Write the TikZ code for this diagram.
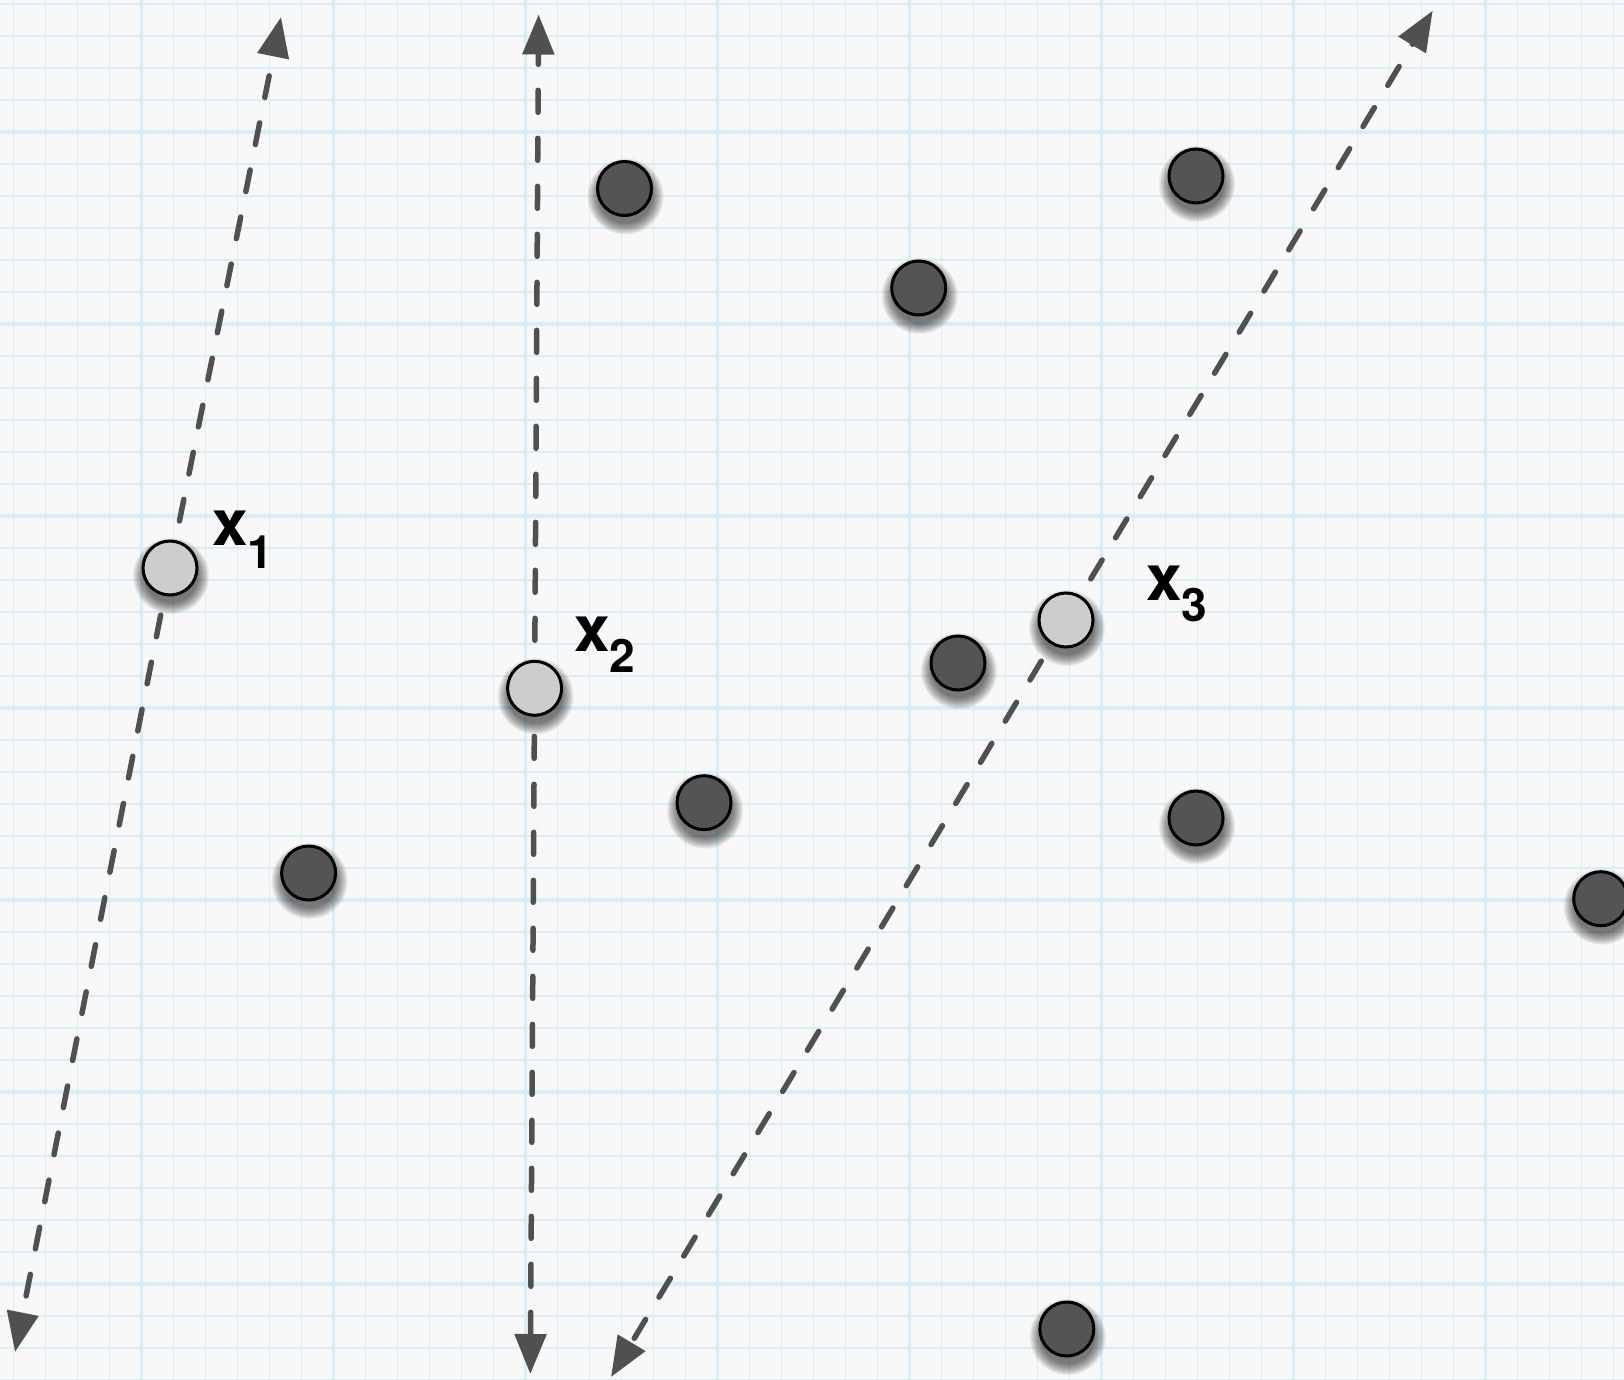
\documentclass[tikz,border=0pt]{standalone}
\usepackage{fontspec}
\setsansfont{TeX Gyre Heros}
\usetikzlibrary{arrows.meta}
\pgfdeclarelayer{grid}
\pgfdeclarelayer{shade}
\pgfdeclarelayer{lines}
\pgfsetlayers{grid,shade,lines,main}
\definecolor{paper}{RGB}{248,248,248}
\definecolor{gridc}{RGB}{219,237,244}
\definecolor{ink}{RGB}{80,80,80}
\definecolor{darkdot}{RGB}{84,84,84}
\definecolor{lightdot}{RGB}{205,205,205}
\tikzset{
  dot/.style={circle, draw=black, line width=3pt, minimum size=54pt, inner sep=0pt},
  darkpt/.style={dot, fill=darkdot},
  lightpt/.style={dot, fill=lightdot},
  vec/.style={draw=ink, line width=5.5pt, line cap=round, dash pattern=on 22pt off 26pt,
    -{Triangle[length=40pt,width=31pt]}},
  lbl/.style={inner sep=0pt, anchor=base west, font=\sffamily\bfseries\fontsize{64}{64}\selectfont},
  minorline/.style={draw=gridc, line width=1.6pt},
  majorline/.style={draw=gridc, line width=3.4pt},
  shadowring/.style={fill=black, fill opacity=0.055},
}
\begin{document}
\begin{tikzpicture}[x=1pt, y=-1pt]
\useasboundingbox (0,0) rectangle (1624,1380);
% paper and grid
\begin{pgfonlayer}{grid}
  \fill[paper] (0,0) rectangle (1624,1380);
  \foreach \k [evaluate=\k as \xx using 13.3+32*\k] in {0,...,50}
    \draw[minorline] (\xx,0) -- (\xx,1380);
  \foreach \k [evaluate=\k as \yy using 4+32*\k] in {0,...,43}
    \draw[minorline] (0,\yy) -- (1624,\yy);
  \foreach \k [evaluate=\k as \xx using 13.3+32*\k] in {4,10,...,46}
    \draw[majorline] (\xx,0) -- (\xx,1380);
  \foreach \k [evaluate=\k as \yy using 4+32*\k] in {4,10,...,40}
    \draw[majorline] (0,\yy) -- (1624,\yy);
\end{pgfonlayer}

% dark points
\node[darkpt] (d1) at (624.5,188.5) {};
\node[darkpt] (d2) at (1196,176) {};
\node[darkpt] (d3) at (918.7,288) {};
\node[darkpt] (d4) at (958,663) {};
\node[darkpt] (d5) at (704,802.7) {};
\node[darkpt] (d6) at (1196,818) {};
\node[darkpt] (d7) at (308.6,873) {};
\node[darkpt] (d8) at (1600.7,898.7) {};
\node[darkpt] (d9) at (1066.8,1329) {};

% light points
\node[lightpt] (x1) at (170,568) {};
\node[lightpt] (x2) at (534.6,688.3) {};
\node[lightpt] (x3) at (1066,620) {};

% soft shadows
\begin{pgfonlayer}{shade}
  \foreach \n in {d1,d2,d3,d4,d5,d6,d7,d8,d9,x1,x2,x3}
    \foreach \r in {27,...,38}
      \fill[shadowring] ([shift={(1,8)}]\n.center) circle[radius=\r];
\end{pgfonlayer}

% labels
\node[lbl] (l1) at (212,545) {x\raisebox{-23pt}{\fontsize{46}{46}\selectfont 1}};
\node[lbl] (l2) at (574,651.7) {x\raisebox{-21pt}{\fontsize{46}{46}\selectfont 2}};
\node[lbl] (l3) at (1146,600) {x\raisebox{-21.7pt}{\fontsize{46}{46}\selectfont 3}};

% arrow ends
\coordinate (t1) at (281,17);
\coordinate (b1) at (15,1352);
\coordinate (t2) at (538.6,14.5);
\coordinate (b2) at (530.3,1374);
\coordinate (t3) at (1432.7,10.7);
\coordinate (b3) at (611,1377);

\begin{pgfonlayer}{lines}
  \draw[vec] (x1.center) -- (t1);
  \draw[vec] (x1.center) -- (b1);
  \draw[vec] (x2.center) -- (t2);
  \draw[vec] (x2.center) -- (b2);
  \draw[vec] (x3.center) -- (t3);
  \draw[vec] (x3.center) -- (b3);
\end{pgfonlayer}
\end{tikzpicture}
\end{document}
